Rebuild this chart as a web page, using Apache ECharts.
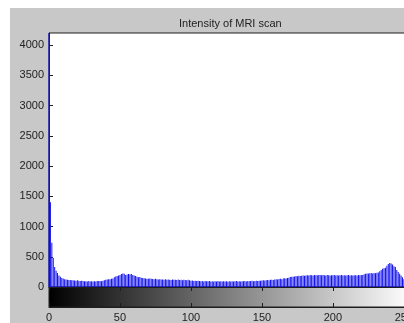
<!DOCTYPE html>
<html><head><meta charset="utf-8">
<script src="https://cdn.jsdelivr.net/npm/echarts@6/dist/echarts.min.js"></script>
<style>
html,body{margin:0;padding:0;background:#fff;width:404px;height:323px;overflow:hidden;}
#main{position:absolute;left:10px;top:8px;width:394px;height:315px;}
</style></head>
<body><div id="main"></div>
<script>
// Histogram of intensity (256 bins, 0..255)
const titleText = "Intensity of MRI scan";
const xTicks = [0, 50, 100, 150, 200, 250];
const yTicks = [0, 500, 1000, 1500, 2000, 2500, 3000, 3500, 4000];
const counts = [
4200,1400,730,480,330,270,230,190,170,150,140,130,125,120,115,115,
110,112,108,105,110,105,100,102,98,95,95,92,98,90,95,92,
95,90,98,100,100,95,105,110,120,125,130,128,135,140,160,175,
180,190,200,215,225,220,200,205,215,210,215,200,190,180,170,160,
165,155,150,145,140,138,135,140,135,132,130,135,128,125,130,122,
125,120,128,118,122,120,115,125,118,120,115,122,116,118,112,120,
115,110,118,112,105,108,100,104,98,102,100,96,98,92,100,95,
94,98,90,96,92,95,90,98,92,94,90,96,92,95,88,94,
92,96,90,94,98,92,95,90,96,94,98,92,100,96,98,102,
96,100,104,98,105,102,108,110,106,112,115,110,118,120,116,125,
128,124,132,135,130,140,145,142,150,155,165,170,168,175,180,178,
185,182,188,190,186,192,195,190,198,195,192,200,196,194,200,198,
195,200,196,192,198,195,190,196,194,198,192,196,190,195,198,192,
196,190,194,198,192,195,190,196,194,192,198,195,200,198,210,220,
225,222,228,230,225,232,228,235,240,260,280,300,310,320,350,380,
395,390,370,345,330,280,250,220,190,160,130,120,110,100,90,80
];
const xMin = 0, xMax = 255, yMin = 0, yMax = 4200;

const font = 'Liberation Sans, Arial, sans-serif';
const axisColor = '#1e1e1e';
const chart = echarts.init(document.getElementById('main'), null, {renderer:'canvas'});
chart.setOption({
  backgroundColor: '#c8c8c8',
  animation: false,
  title: {
    text: titleText, left: 164, top: 5,
    textStyle: {fontFamily: font, fontSize: 11, fontWeight: 'normal', color: '#222'}
  },
  grid: [
    {left: 39, top: 25, width: 362, height: 254, show: true, outerBoundsMode: 'none', containLabel: false,
     backgroundColor: '#ffffff', borderColor: axisColor, borderWidth: 1},
    {left: 39, top: 279, width: 362, height: 20, show: true, outerBoundsMode: 'none', containLabel: false,
     borderColor: axisColor, borderWidth: 1,
     backgroundColor: new echarts.graphic.LinearGradient(0, 0, 1, 0, [{offset: 0, color: '#000000'}, {offset: 1, color: '#ffffff'}])}
  ],
  xAxis: [
    {gridIndex: 0, type: 'value', min: xMin, max: xMax, interval: 50, position: 'top',
     axisLine: {show: true, lineStyle: {color: axisColor}}, axisTick: {show: true, inside: true, length: 4, lineStyle: {color: axisColor}},
     axisLabel: {show: false}, splitLine: {show: false}},
    {gridIndex: 1, type: 'value', min: xMin, max: xMax, interval: 50, position: 'bottom',
     axisLine: {show: true, lineStyle: {color: axisColor}}, axisTick: {show: true, inside: true, length: 4, lineStyle: {color: axisColor}},
     axisLabel: {show: true, margin: 5, color: '#222', fontFamily: font, fontSize: 11, showMaxLabel: false,
       formatter: v => xTicks.includes(v) ? String(v) : ''},
     splitLine: {show: false}},
    {gridIndex: 1, type: 'value', min: xMin, max: xMax, interval: 50, position: 'top',
     axisLine: {show: false}, axisTick: {show: true, inside: true, length: 4, lineStyle: {color: axisColor}},
     axisLabel: {show: false}, splitLine: {show: false}}
  ],
  yAxis: [
    {gridIndex: 0, type: 'value', min: yMin, max: yMax, interval: 500,
     axisLine: {show: true, lineStyle: {color: axisColor}}, axisTick: {show: true, inside: true, length: 4, lineStyle: {color: axisColor}},
     axisLabel: {show: true, margin: 5, color: '#222', fontFamily: font, fontSize: 11, showMaxLabel: false,
       formatter: v => yTicks.includes(v) ? String(v) : ''},
     splitLine: {show: false}},
    {gridIndex: 1, type: 'value', min: 0, max: 1, show: false}
  ],
  series: [
    {type: 'bar', xAxisIndex: 0, yAxisIndex: 0, barWidth: 1, clip: true,
     itemStyle: {color: '#1010ee'},
     data: counts.map((c, i) => [i, c])}
  ]
});
</script></body></html>
